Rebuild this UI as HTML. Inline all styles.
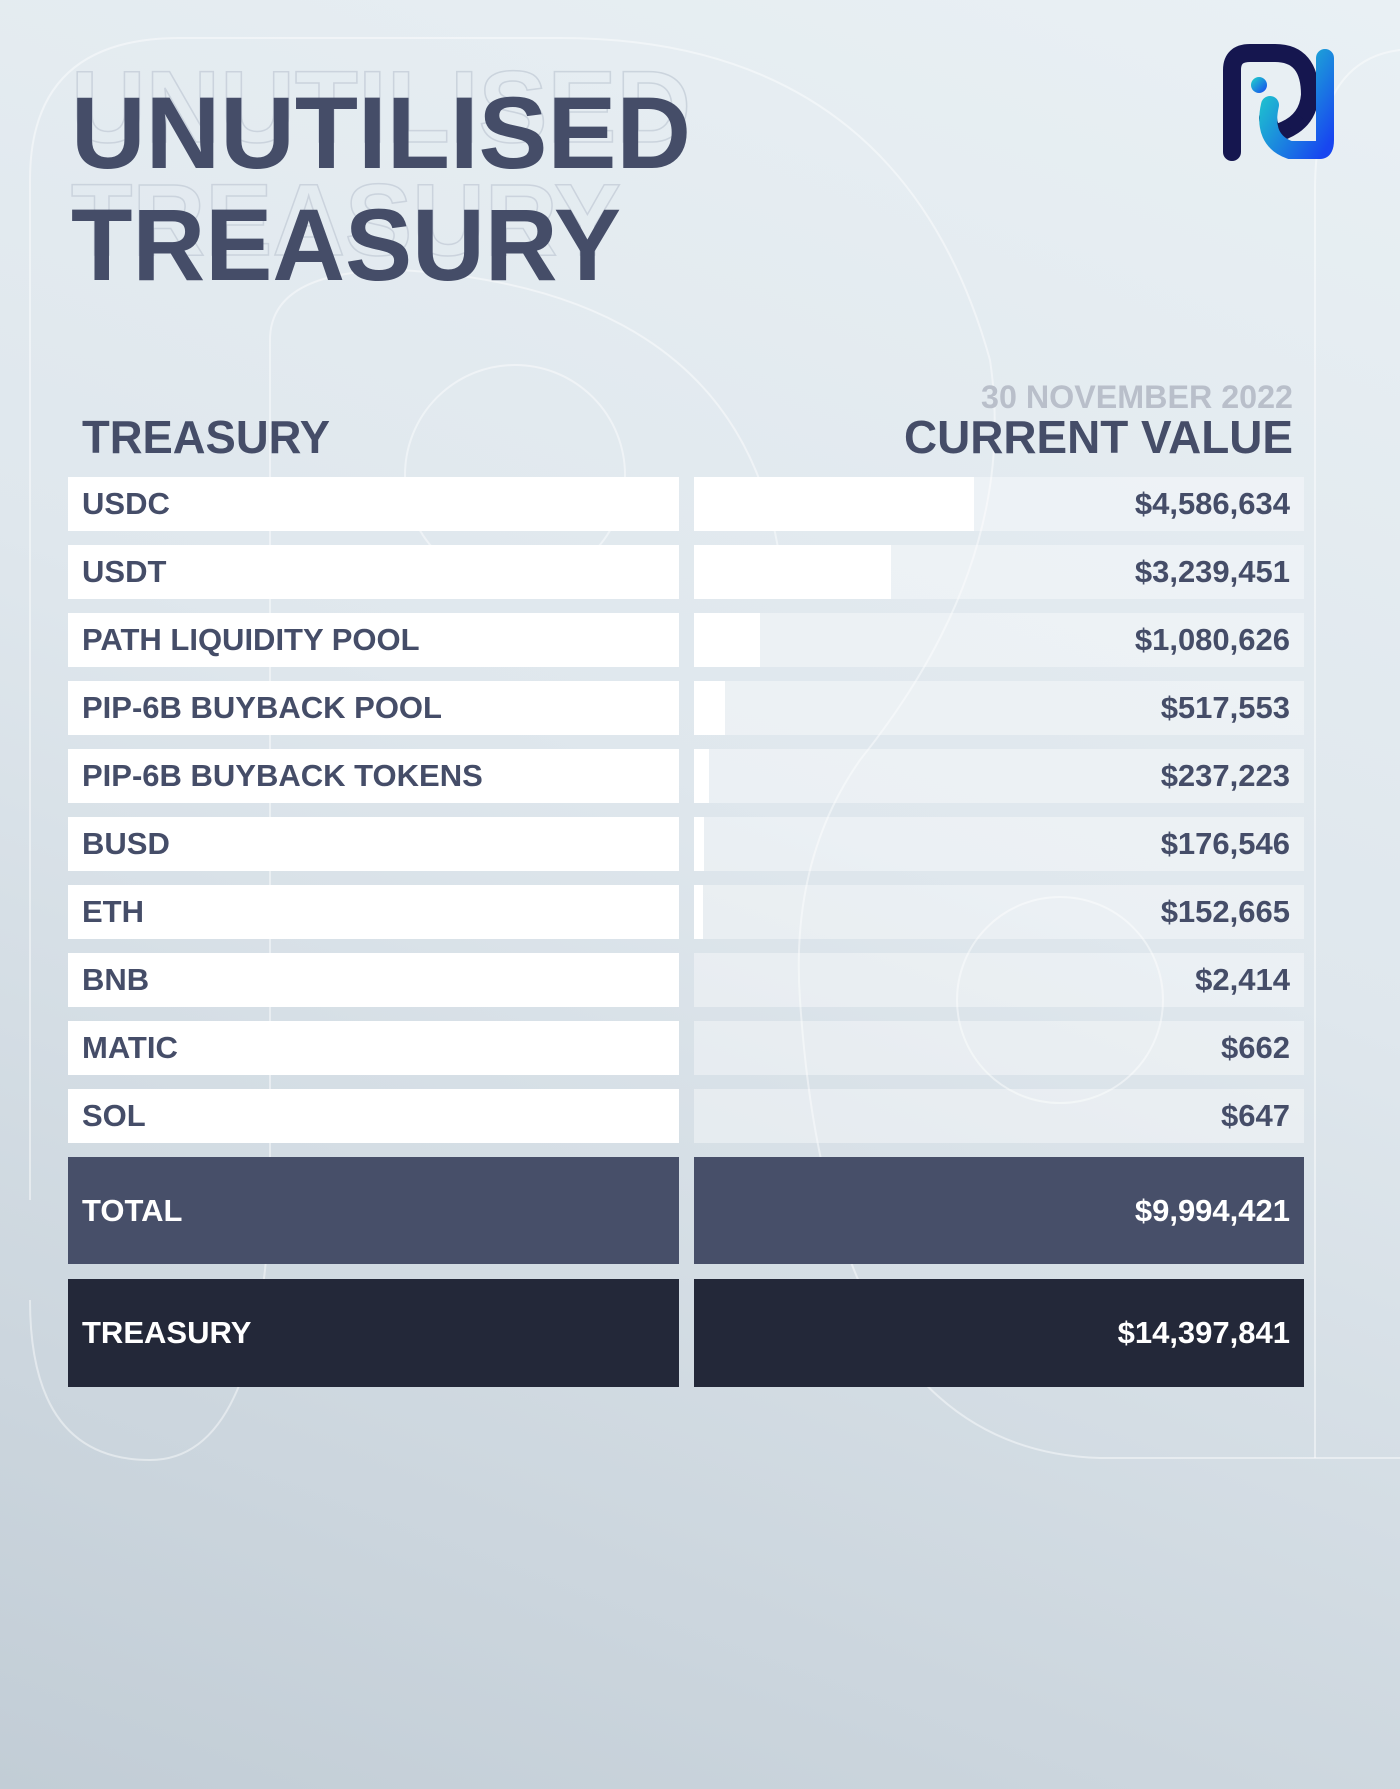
<!DOCTYPE html>
<html><head><style>
body{margin:0;width:1400px;height:1789px;overflow:hidden;font-family:"Liberation Sans",sans-serif;background:linear-gradient(200deg,#e9f0f4 0%,#dfe7ed 45%,#c2cdd6 100%);position:relative}
.r{position:absolute;height:54px;font-weight:bold;font-size:31px;color:#454d68;line-height:54px;box-sizing:border-box}
.l{left:68px;width:611px;background:#fff;padding-left:14px}
.v{left:694px;width:610px;background:rgba(255,255,255,.38);text-align:right;padding-right:14px}
.b{position:absolute;left:0;top:0;bottom:0;background:#fff}
.v span{position:relative}
</style></head><body>
<svg width="1400" height="1789" style="position:absolute;left:0;top:0">
<g fill="none" stroke="rgba(255,255,255,.45)" stroke-width="2">
<path d="M30 1200 V180 Q30 38 180 38 H560 Q900 38 990 360 Q1020 560 860 760 Q790 860 800 1000 Q830 1450 1100 1458 H1400"/>
<circle cx="515" cy="475" r="110"/>
<circle cx="1060" cy="1000" r="103"/>
<path d="M270 1200 Q260 1460 150 1460 Q30 1460 30 1300"/>
<path d="M270 1200 V340 Q270 270 400 270 Q740 290 780 560"/>
<path d="M1315 1458 V190 Q1315 60 1400 50"/>
</g>
<text x="71" y="142" font-family="Liberation Sans" font-weight="bold" font-size="102" fill="none" stroke="rgba(200,208,218,.9)" stroke-width="1.5" textLength="620" lengthAdjust="spacingAndGlyphs">UNUTILISED</text>
<text x="71" y="255" font-family="Liberation Sans" font-weight="bold" font-size="102" fill="none" stroke="rgba(200,208,218,.9)" stroke-width="1.5" textLength="550" lengthAdjust="spacingAndGlyphs">TREASURY</text>
<text x="71" y="168" font-family="Liberation Sans" font-weight="bold" font-size="102" fill="#454d68" textLength="620" lengthAdjust="spacingAndGlyphs">UNUTILISED</text>
<text x="71" y="280" font-family="Liberation Sans" font-weight="bold" font-size="102" fill="#454d68" textLength="550" lengthAdjust="spacingAndGlyphs">TREASURY</text>
<text x="82" y="453" font-family="Liberation Sans" font-weight="bold" font-size="46" fill="#454d68" textLength="248" lengthAdjust="spacingAndGlyphs">TREASURY</text>
<text x="1293" y="453" text-anchor="end" font-family="Liberation Sans" font-weight="bold" font-size="46" fill="#454d68" textLength="389" lengthAdjust="spacingAndGlyphs">CURRENT VALUE</text>
<text x="1293" y="408" text-anchor="end" font-family="Liberation Sans" font-weight="bold" font-size="32" fill="#b9bfca" textLength="312" lengthAdjust="spacingAndGlyphs">30 NOVEMBER 2022</text>
<defs><linearGradient id="g" x1="0" y1="0" x2="1" y2="1"><stop offset="0" stop-color="#1fd6c9"/><stop offset="1" stop-color="#1846f0"/></linearGradient></defs>
<path d="M1232 152 V70 Q1232 53 1250 53 H1275 Q1310 53 1310 95 Q1308 120 1285 130 Q1270 138 1268 118" fill="none" stroke="#15164f" stroke-width="18" stroke-linecap="round"/>
<path d="M1270 105 Q1262 140 1290 150 H1320 Q1325 150 1325 140 V58" fill="none" stroke="url(#g)" stroke-width="18" stroke-linecap="round"/>
<circle cx="1259" cy="85" r="8" fill="url(#g)"/>
<circle cx="1296" cy="123" r="8" fill="#15164f"/>
</svg>
<div class="r l" style="top:477px">USDC</div><div class="r v" style="top:477px"><div class="b" style="width:280px"></div><span>$4,586,634</span></div>
<div class="r l" style="top:545px">USDT</div><div class="r v" style="top:545px"><div class="b" style="width:197px"></div><span>$3,239,451</span></div>
<div class="r l" style="top:613px">PATH LIQUIDITY POOL</div><div class="r v" style="top:613px"><div class="b" style="width:66px"></div><span>$1,080,626</span></div>
<div class="r l" style="top:681px">PIP-6B BUYBACK POOL</div><div class="r v" style="top:681px"><div class="b" style="width:31px"></div><span>$517,553</span></div>
<div class="r l" style="top:749px">PIP-6B BUYBACK TOKENS</div><div class="r v" style="top:749px"><div class="b" style="width:15px"></div><span>$237,223</span></div>
<div class="r l" style="top:817px">BUSD</div><div class="r v" style="top:817px"><div class="b" style="width:10px"></div><span>$176,546</span></div>
<div class="r l" style="top:885px">ETH</div><div class="r v" style="top:885px"><div class="b" style="width:9px"></div><span>$152,665</span></div>
<div class="r l" style="top:953px">BNB</div><div class="r v" style="top:953px"><span>$2,414</span></div>
<div class="r l" style="top:1021px">MATIC</div><div class="r v" style="top:1021px"><span>$662</span></div>
<div class="r l" style="top:1089px">SOL</div><div class="r v" style="top:1089px"><span>$647</span></div>
<div class="r l" style="top:1157px;height:107px;line-height:107px;background:#474f69;color:#fff">TOTAL</div><div class="r v" style="top:1157px;height:107px;line-height:107px;background:#474f69;color:#fff">$9,994,421</div>
<div class="r l" style="top:1279px;height:108px;line-height:108px;background:#232839;color:#fff">TREASURY</div><div class="r v" style="top:1279px;height:108px;line-height:108px;background:#232839;color:#fff">$14,397,841</div>
</body></html>
